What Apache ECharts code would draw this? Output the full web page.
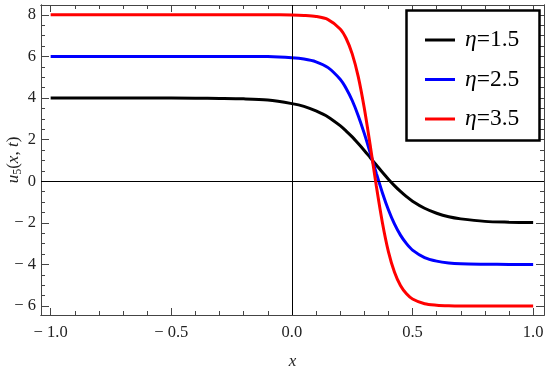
<!DOCTYPE html>
<html><head><meta charset="utf-8">
<script src="https://cdn.jsdelivr.net/npm/echarts@6/dist/echarts.min.js"></script>
<style>html,body{margin:0;padding:0;background:#fff}#c{width:550px;height:368px}</style>
</head><body><div id="c"></div>
<script>
const xValues = [-1, -0.8, -0.6, -0.4, -0.3, -0.2, -0.1, 0, 0.05, 0.1, 0.15, 0.2, 0.225, 0.25, 0.275, 0.3, 0.325, 0.35, 0.375, 0.4, 0.425, 0.45, 0.475, 0.5, 0.55, 0.6, 0.65, 0.7, 0.8, 0.9, 1.0];
const eta15 = [4.00, 4.00, 4.00, 3.99, 3.98, 3.96, 3.90, 3.73, 3.60, 3.38, 3.09, 2.67, 2.41, 2.13, 1.81, 1.48, 1.13, 0.78, 0.43, 0.10, -0.21, -0.49, -0.74, -0.96, -1.30, -1.54, -1.71, -1.81, -1.93, -1.97, -1.99];
const eta25 = [6.00, 6.00, 6.00, 6.00, 6.00, 6.00, 5.99, 5.93, 5.87, 5.74, 5.46, 4.90, 4.46, 3.88, 3.15, 2.30, 1.35, 0.38, -0.55, -1.37, -2.05, -2.59, -3.00, -3.31, -3.67, -3.84, -3.93, -3.97, -3.99, -4.00, -4.00];
const eta35 = [8.00, 8.00, 8.00, 8.00, 8.00, 8.00, 8.00, 7.99, 7.97, 7.92, 7.77, 7.32, 6.86, 6.12, 5.03, 3.52, 1.70, -0.23, -1.98, -3.38, -4.36, -5.01, -5.41, -5.66, -5.89, -5.96, -5.99, -6.00, -6.00, -6.00, -6.00];
const seriesNames = ['η=1.5', 'η=2.5', 'η=3.5'];
const seriesColors = ['#000000', '#0000ff', '#ff0000'];
const xMajorTicks = [-1, -0.5, 0, 0.5, 1];
const xTickLabels = ['\u2212 1.0', '\u2212 0.5', '0.0', '0.5', '1.0'];
const xMinorTicks = [-0.9, -0.8, -0.7, -0.6, -0.4, -0.3, -0.2, -0.1, 0.1, 0.2, 0.3, 0.4, 0.6, 0.7, 0.8, 0.9];
const yMajorTicks = [-6, -4, -2, 0, 2, 4, 6, 8];
const yTickLabels = ['\u2212 6', '\u2212 4', '\u2212 2', '0', '2', '4', '6', '8'];
const yMinorTicks = [-5.5, -5, -4.5, -3.5, -3, -2.5, -1.5, -1, -0.5, 0.5, 1, 1.5, 2.5, 3, 3.5, 4.5, 5, 5.5, 6.5, 7, 7.5];

const FONT = 'Liberation Serif';
const FRAME = '#444';
const XMIN = -1.04, XMAX = 1.045, YMIN = -6.43, YMAX = 8.47;

function lookup(vals, labels, v) {
  for (let i = 0; i < vals.length; i++) if (Math.abs(vals[i] - v) < 1e-9) return labels[i];
  return '';
}
function axis(kind, pos, ticks, len, labelVals, labels, extra) {
  const a = {
    type: 'value', position: pos,
    min: kind === 'x' ? XMIN : YMIN, max: kind === 'x' ? XMAX : YMAX,
    splitLine: { show: false },
    axisLine: { show: true, onZero: false, lineStyle: { color: FRAME, width: 1 } },
    axisTick: { show: true, inside: true, length: len, customValues: ticks, lineStyle: { color: FRAME, width: 1 } },
    axisLabel: labelVals ? {
      show: true, customValues: labelVals, fontFamily: FONT, fontSize: 16.5, color: '#222',
      margin: kind === 'x' ? 9 : 5,
      formatter: v => lookup(labelVals, labels, v)
    } : { show: false },
    axisPointer: { show: false }
  };
  return Object.assign(a, extra || {});
}

const xAxes = [
  axis('x', 'bottom', xMajorTicks, 7, xMajorTicks, xTickLabels, {
    name: 'x', nameLocation: 'middle', nameGap: 38, nameMoveOverlap: false,
    nameTextStyle: { fontFamily: FONT, fontSize: 17, fontStyle: 'italic', color: '#222' }
  }),
  axis('x', 'bottom', xMinorTicks, 4),
  axis('x', 'top', xMajorTicks, 7),
  axis('x', 'top', xMinorTicks, 4)
];
const yAxes = [
  axis('y', 'left', yMajorTicks, 8, yMajorTicks, yTickLabels, {
    name: '{i|u}{s|5}{n|(}{i|x}{n|, }{i|t}{n|)}', nameLocation: 'middle', nameGap: 17, nameRotate: 90,
    nameMoveOverlap: false,
    nameTextStyle: {
      fontFamily: FONT, fontSize: 17, color: '#222',
      rich: {
        i: { fontFamily: FONT, fontSize: 17, fontStyle: 'italic', color: '#222', lineHeight: 20 },
        n: { fontFamily: FONT, fontSize: 17, color: '#222', lineHeight: 20 },
        s: { fontFamily: FONT, fontSize: 12, color: '#222', lineHeight: 20, padding: [7, 0, 0, 0] }
      }
    }
  }),
  axis('y', 'left', yMinorTicks, 4),
  axis('y', 'right', yMajorTicks, 8),
  axis('y', 'right', yMinorTicks, 4)
];

const data = [eta15, eta25, eta35];
const series = data.map((arr, k) => ({
  name: seriesNames[k], type: 'line', xAxisIndex: 0, yAxisIndex: 0,
  data: xValues.map((x, i) => [x, arr[i]]),
  smooth: 0.3, showSymbol: false, symbol: 'none',
  lineStyle: { color: seriesColors[k], width: 3 }, itemStyle: { color: seriesColors[k] },
  z: 3 + k
}));
series[0].markLine = {
  silent: true, symbol: ['none', 'none'], label: { show: false },
  lineStyle: { color: '#000', width: 1, type: 'solid' },
  data: [{ yAxis: 0 }, { xAxis: 0 }], animation: false
};

const chart = echarts.init(document.getElementById('c'), null, { renderer: 'canvas' });
chart.setOption({
  animation: false,
  backgroundColor: '#fff',
  grid: { left: 41, right: 6, top: 5, bottom: 53, containLabel: false, outerBoundsMode: 'none' },
  xAxis: xAxes,
  yAxis: yAxes,
  graphic: [{
    type: 'rect', z: 15, shape: { x: 406.5, y: 10.5, width: 133, height: 130 },
    style: { fill: '#fff', stroke: '#000', lineWidth: 2.5 }
  }],
  legend: {
    orient: 'vertical', left: 420, top: 23, z: 20,
    itemWidth: 30, itemHeight: 3, itemGap: 15.5, icon: 'rect',
    data: seriesNames,
    formatter: name => '{g|' + name.charAt(0) + '}{n|' + name.slice(1) + '}',
    textStyle: {
      fontFamily: FONT, fontSize: 23.5, color: '#000', lineHeight: 24, padding: [0, 0, 0, 5],
      rich: {
        g: { fontFamily: FONT, fontSize: 23.5, fontStyle: 'italic', color: '#000', lineHeight: 24 },
        n: { fontFamily: FONT, fontSize: 23.5, color: '#000', lineHeight: 24 }
      }
    }
  },
  series: series
});
</script></body></html>
